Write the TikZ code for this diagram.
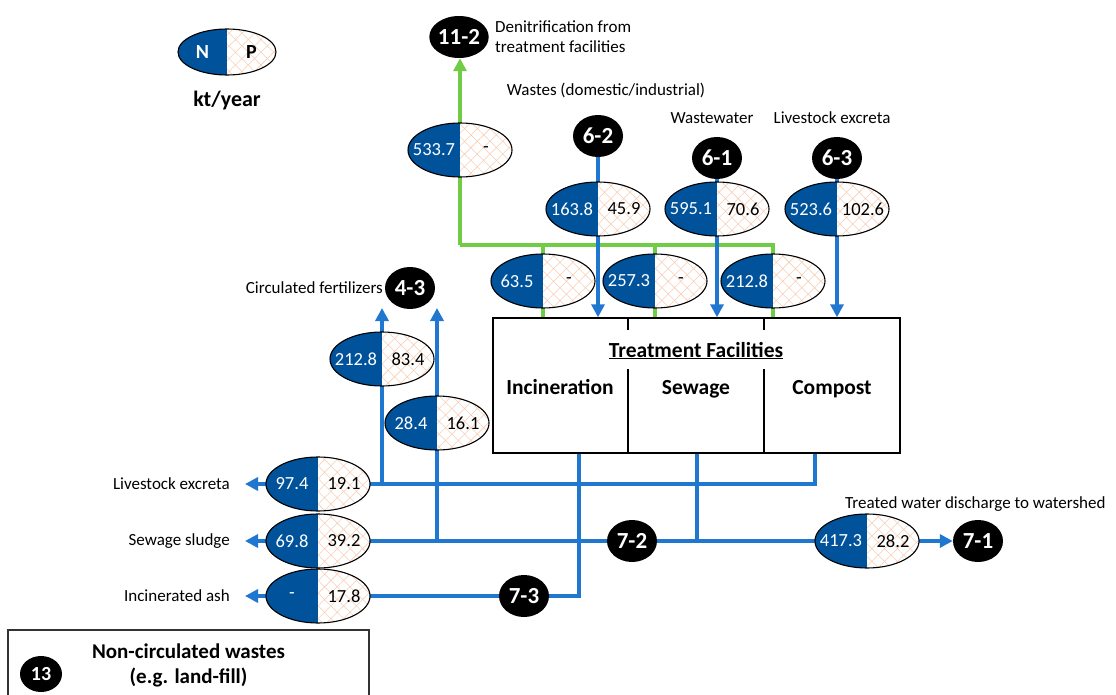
\documentclass[tikz,border=0pt]{standalone}
\usepackage{fontspec}
\setmainfont{Carlito}
\usetikzlibrary{shapes.geometric,arrows.meta,patterns.meta,backgrounds}

\definecolor{nblue}{RGB}{0,82,155}
\definecolor{flowblue}{RGB}{31,119,208}
\definecolor{flowgreen}{RGB}{112,204,68}
\definecolor{hatchpeach}{RGB}{249,206,180}

\tikzset{
  num/.style={font=\fontsize{18.5}{21}\selectfont, inner sep=0pt},
  caption/.style={font=\fontsize{17}{20}\selectfont, inner sep=0pt},
  sidelabel/.style={caption, anchor=east, inner xsep=15pt},
  tag/.style={ellipse, fill=black, text=white, minimum width=50pt,
    minimum height=42pt, inner sep=0pt, font=\bfseries\fontsize{23}{25}\selectfont},
  bflow/.style={draw=flowblue, line width=4pt},
  gflow/.style={draw=flowgreen, line width=3.5pt},
  tip/.style={-{Triangle[width=13pt,length=13pt]}},
  boxline/.style={draw=black, line width=1.4pt},
  heading/.style={font=\bfseries\fontsize{21.5}{25}\selectfont, inner sep=0pt, anchor=base},
}

% oval split into an N half (solid blue) and a P half (hatched)
% #1 name, #2 position, #3 x radius, #4 y radius, #5 left text, #6 right text
\newcommand\splitoval[6]{%
  \node[ellipse, minimum width={2*#3pt}, minimum height={2*#4pt}, inner sep=0pt] (#1) at (#2) {};
  \begin{scope}
    \clip (#1.center) ellipse [x radius=#3pt, y radius=#4pt];
    \fill[nblue] (#1.center) ++(-#3-2,-#4-2) rectangle ++(#3+2,2*#4+4);
    \fill[white] (#1.center) ++(0,-#4-2) rectangle ++(#3+2,2*#4+4);
    \fill[pattern={Hatch[angle=45,distance=9pt,line width=0.55pt]}, pattern color=hatchpeach]
      (#1.center) ++(0,-#4-2) rectangle ++(#3+2,2*#4+4);
  \end{scope}
  \draw[line width=1.1pt] (#1.center) ellipse [x radius=#3pt, y radius=#4pt];
  \node[num, text=white] at ([xshift=-#3pt/2]#1.center) {#5};
  \node[num] at ([xshift=#3pt/2]#1.center) {#6};
}
\newcommand\flowpair[4]{\splitoval{#1}{#2}{52}{27}{#3}{#4}}

\begin{document}
\begin{tikzpicture}[x=1pt, y=-1pt]
\useasboundingbox (0,0) rectangle (1116,695);

% legend
\splitoval{legend}{227,52}{49}{23}{\bfseries\fontsize{20}{22}\selectfont N}{\bfseries\fontsize{20}{22}\selectfont P}
\node[font=\bfseries\fontsize{22}{24}\selectfont, inner sep=0pt] (unit) at (227,101) {kt/year};

% inputs to the treatment facilities
\node[tag] (c112) at (459,37) {11-2};
\node[caption, anchor=west, align=left] (l112) at (495,37) {Denitrification from\\treatment facilities};
\flowpair{d11}{460,150}{533.7}{-}

\node[caption] (lwaste) at (606,90) {Wastes (domestic/industrial)};
\node[caption] (lwater) at (712,118) {Wastewater};
\node[caption] (lstock) at (832,118) {Livestock excreta};

\node[tag] (c62) at (598,136) {6-2};
\node[tag] (c61) at (717,158) {6-1};
\node[tag] (c63) at (837,158) {6-3};
\flowpair{d62}{598,209}{163.8}{45.9}
\flowpair{d61}{717,209}{595.1}{70.6}
\flowpair{d63}{837,209}{523.6}{102.6}

\flowpair{dInc}{543,281}{63.5}{-}
\flowpair{dSew}{655,281}{257.3}{-}
\flowpair{dCom}{773,281}{212.8}{-}

% treatment facilities
\node[boxline, minimum width=407pt, minimum height=135pt, inner sep=0pt] (tf) at (696.5,385.5) {};
\draw[boxline] (628,318) -- (628,330) (628,369) -- (628,453)
               (764,318) -- (764,330) (764,369) -- (764,453);
\node[heading] (tftitle) at (696,357) {\underline{Treatment Facilities}};
\node[heading] (tfinc) at (560,394) {Incineration};
\node[heading] (tfsew) at (696,394) {Sewage};
\node[heading] (tfcom) at (832,394) {Compost};

% outputs
\node[caption, anchor=east] (lfert) at (383,288) {Circulated fertilizers};
\node[tag] (c43) at (410,288) {4-3};
\flowpair{dF1}{382,359}{212.8}{83.4}
\flowpair{dF2}{437,423}{28.4}{16.1}

\flowpair{dLive}{318,484}{97.4}{19.1}
\flowpair{dSludge}{318,541}{69.8}{39.2}
\flowpair{dAsh}{318,596}{-}{17.8}
\node[sidelabel] (lLive) at (245,484) {Livestock excreta};
\node[sidelabel] (lSludge) at (245,541) {Sewage sludge};
\node[sidelabel] (lAsh) at (245,596) {Incinerated ash};

\node[tag] (c72) at (632,541) {7-2};
\node[tag] (c73) at (524,596) {7-3};
\flowpair{dWater}{867,541}{417.3}{28.2}
\node[tag] (c71) at (978,541) {7-1};
\node[caption, anchor=west] (ltreated) at (845,504) {Treated water discharge to watershed};

% non-circulated wastes
\node[draw=black!80, line width=1.3pt, minimum width=361pt, minimum height=70pt,
      align=center, font=\bfseries\fontsize{21}{25}\selectfont] (b13) at (188.5,665)
      {Non-circulated wastes\\(e.g. land-fill)};
\node[tag, minimum width=42pt, minimum height=36pt, font=\bfseries\fontsize{20}{22}\selectfont] (c13) at (41,674) {13};

% junction points
\coordinate (gj) at (460,245);
\coordinate (jLive) at (815,484);
\coordinate (jSew) at (697,541);
\coordinate (jInc) at (579,596);
\coordinate (f1) at (382,308);
\coordinate (f2) at (437,308);

\begin{scope}[on background layer]
  % denitrification (green)
  \draw[gflow] (tf.north -| dCom) |- (gj);
  \draw[gflow] (tf.north -| dInc) -- (dInc |- gj);
  \draw[gflow] (tf.north -| dSew) -- (dSew |- gj);
  \draw[gflow,tip] (gj) -- (c112.south -| gj);
  % inflows
  \draw[bflow,tip] (c62) -- (c62 |- tf.north);
  \draw[bflow,tip] (c61) -- (c61 |- tf.north);
  \draw[bflow,tip] (c63) -- (c63 |- tf.north);
  % compost
  \draw[bflow] (tf.south -| jLive) -- (jLive) -- (dLive);
  \draw[bflow,tip] (dLive) -- (lLive.east);
  \draw[bflow,tip] (dF1 |- jLive) -- (f1);
  % sewage
  \draw[bflow] (tf.south -| jSew) -- (jSew) -- (dSludge);
  \draw[bflow,tip] (dSludge) -- (lSludge.east);
  \draw[bflow,tip] (dF2 |- jSew) -- (f2);
  \draw[bflow] (jSew) -- (dWater);
  \draw[bflow,tip] (dWater) -- (c71);
  % incineration
  \draw[bflow] (tf.south -| jInc) -- (jInc) -- (dAsh);
  \draw[bflow,tip] (dAsh) -- (lAsh.east);
\end{scope}
\end{tikzpicture}
\end{document}
